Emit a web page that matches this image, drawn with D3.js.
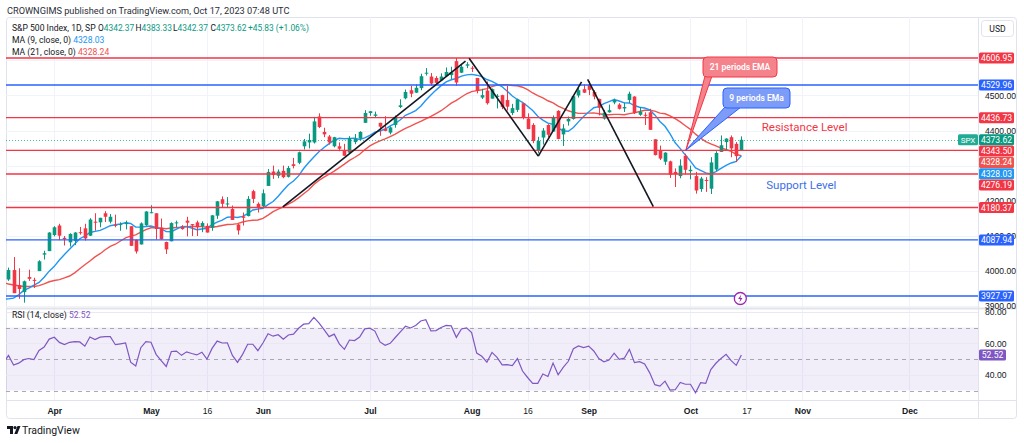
<!DOCTYPE html>
<html>
<head>
<meta charset="utf-8">
<script src="https://cdn.jsdelivr.net/npm/d3@7"></script>
<style>
  body { margin: 0; background: #fff; }
  svg { display: block; font-family: Roboto, "Liberation Sans", sans-serif; }
</style>
</head>
<body>
<svg id="chart" width="1024" height="443"></svg>
<script>
// ---- data ----
var firstSession = "2023-03-21";
var marketHolidays = ["2023-04-07", "2023-05-29", "2023-06-19", "2023-07-04", "2023-09-04", "2023-11-23"];

// daily candles, Mar 21 .. Oct 16 2023
var opens = [3975,4002,3959,3939,3982,3974,3999,4046,4056,
  4102,4129,4094,4081,4085,4110,4121,4100,4140,4138,4164,4140,4131,4132,4133,4127,4088,4075,4130,
  4166,4164,4123,4082,4084,4136,4125,4143,4133,4138,4127,4128,4123,4157,4204,4191,4176,4132,4155,4156,4227,4191,
  4184,4242,4283,4271,4285,4268,4304,4308,4355,4366,4366,4440,4396,4383,4355,4355,4344,4337,4367,4377,4422,
  4450,4442,4422,4405,4394,4416,4467,4492,4515,4508,4521,4563,4554,4550,4543,4555,4558,4598,4565,4585,
  4579,4550,4494,4514,4491,4498,4501,4487,4450,4459,4478,4434,4416,4344,4380,4416,4397,4456,4389,4426,4433,4500,4518,
  4531,4510,4490,4434,4452,4480,4474,4463,4487,4497,4445,4445,4452,4375,4342,4311,4312,4282,4270,4328,
  4284,4270,4233,4259,4234,4289,4339,4367,4381,4362,4342.37];
var highs = [4009,4039,4007,3972,4003,3980,4030,4057,4110,
  4127,4134,4099,4107,4110,4125,4134,4150,4164,4151,4170,4162,4160,4138,4143,4127,4089,4138,4170,
  4187,4164,4149,4083,4138,4143,4130,4154,4133,4143,4141,4135,4159,4199,4212,4210,4186,4133,4166,4213,4231,4195,
  4232,4290,4300,4289,4300,4299,4322,4340,4376,4391,4439,4449,4408,4387,4382,4366,4362,4384,4390,4398,4458,
  4456,4454,4422,4441,4412,4443,4489,4517,4528,4532,4562,4578,4564,4555,4563,4580,4582,4607,4590,4595,
  4584,4550,4519,4540,4520,4504,4502,4527,4476,4491,4478,4449,4421,4382,4407,4418,4443,4458,4418,4440,4501,4521,4532,
  4541,4515,4491,4458,4474,4491,4478,4479,4511,4498,4467,4452,4462,4375,4357,4338,4314,4292,4318,4334,
  4300,4282,4268,4267,4324,4341,4386,4378,4386,4367,4383.33];
var lows = [3971,3936,3920,3909,3971,3951,3999,4032,4056,
  4098,4087,4072,4069,4073,4103,4086,4099,4114,4124,4139,4135,4124,4114,4118,4071,4049,4075,4128,
  4164,4089,4088,4048,4084,4124,4117,4098,4099,4099,4110,4109,4114,4148,4180,4180,4145,4103,4129,4155,4193,4166,
  4180,4242,4262,4264,4264,4266,4292,4304,4346,4349,4363,4407,4381,4360,4352,4341,4328,4335,4361,4372,4422,
  4442,4437,4385,4398,4389,4408,4464,4489,4495,4507,4515,4557,4528,4532,4541,4553,4547,4528,4564,4578,
  4567,4506,4490,4474,4491,4463,4461,4457,4444,4453,4432,4404,4364,4335,4360,4381,4397,4375,4356,4414,4431,4494,4507,
  4501,4489,4443,4431,4451,4475,4460,4453,4478,4447,4442,4416,4402,4329,4316,4302,4265,4239,4264,4275,
  4261,4220,4225,4225,4219,4284,4339,4345,4324,4310,4342.37];
var closes = [4002,3936,3948,3970,3977,3971,4027,4050,4109,
  4124,4100,4090,4105,4109,4108,4092,4146,4137,4151,4154,4154,4129,4133,4137,4071,4055,4135,4169,
  4167,4119,4090,4061,4136,4138,4119,4137,4130,4124,4136,4109,4158,4198,4191,4192,4145,4115,4151,4205,4205,4180,
  4221,4282,4273,4283,4267,4293,4299,4338,4369,4373,4426,4410,4389,4366,4381,4348,4328,4378,4376,4396,4450,
  4455,4446,4411,4399,4409,4439,4472,4510,4505,4522,4555,4565,4534,4536,4554,4567,4566,4537,4582,4589,
  4577,4513,4501,4478,4518,4499,4467,4468,4464,4489,4437,4404,4370,4370,4400,4388,4436,4376,4406,4433,4498,4515,4508,
  4516,4497,4465,4451,4458,4487,4462,4467,4505,4450,4454,4444,4402,4330,4320,4337,4274,4275,4300,4288,
  4288,4229,4263,4258,4309,4336,4358,4377,4349,4327,4373.62];
// closes before the first visible candle (Jan 31 .. Mar 20), feed the MA / RSI
var priorCloses = [4077,4119,4180,4136,4111,4164,4118,4082,4090,4137,4136,4148,4090,4079,
  3997,3991,4012,3970,3982,3970,3951,3981,4046,4048,3986,3992,3918,3862,3856,3919,3892,3960,3917,3952];

var redLevels = [4606.95, 4436.73, 4343.50, 4276.19, 4180.37];
var blueLevels = [4529.96, 4087.94, 3927.97];
var priceGrid = [3900, 4000, 4100, 4200, 4300, 4400, 4500, 4600];
var priceTicks = [3900, 4000, 4100, 4200, 4400, 4500]; // 4300 and 4600 sit under price tags
var rsiTicks = [40, 60, 80];
var rsiBands = [70, 50, 30];
var timeTickDates = ["2023-04-03", "2023-05-01", "2023-05-16", "2023-06-01", "2023-07-03", "2023-08-01",
  "2023-08-16", "2023-09-01", "2023-10-02", "2023-10-17", "2023-11-01", "2023-12-01"];
var timeTickLabels = ["Apr", "May", "16", "Jun", "Jul", "Aug", "16", "Sep", "Oct", "17", "Nov", "Dec"];
var monthTicks = ["Apr", "May", "Jun", "Jul", "Aug", "Sep", "Oct", "Nov", "Dec"];

// drawn trend lines, [session index, price]
var trendLines = [
  [[53.9, 4182], [89.8, 4598]],
  [[90.5, 4606], [104.1, 4327]],
  [[104.1, 4327], [112.6, 4539]],
  [[113.8, 4546], [126.7, 4183]]
];

var legendKeys = ["O", "H", "L", "C"];
var legendOHLC = ["4342.37", "4383.33", "4342.37", "4373.62"];
var legendChange = "+45.83 (+1.06%)";
var ma9Last = 4328.03, ma21Last = 4328.24, lastClose = 4373.62, rsiLast = 52.52;

// ---- layout ----
var svg = d3.select("#chart");
var left = 6, right = 978, paneTop = 17, paneBottom = 308, rsiBottom = 400, frameBottom = 419, frameRight = 1017;

var green = "#089981", red = "#f23645", blue = "#2962ff", ma9Color = "#2196f3", ma21Color = "#ef5350",
    rsiColor = "#7e57c2", grid = "#f0f3fa", border = "#e0e3eb", ink = "#131722";

// trading sessions from the first candle forward
function sessions(start, n) {
  var out = [], d = new Date(start + "T00:00:00Z");
  while (out.length < n) {
    var iso = d.toISOString().slice(0, 10), wd = d.getUTCDay();
    if (wd !== 0 && wd !== 6 && marketHolidays.indexOf(iso) < 0) out.push(iso);
    d.setUTCDate(d.getUTCDate() + 1);
  }
  return out;
}
var days = sessions(firstSession, 200);

var x = d3.scaleLinear().domain([-0.49, 190.5]).range([left, right]);
var y = d3.scaleLinear().domain([3893.7, 4723.9]).range([paneBottom, paneTop]);
var yr = d3.scaleLinear().domain([24, 82.4]).range([rsiBottom, paneBottom]);

var defs = svg.append("defs");
defs.append("clipPath").attr("id", "pane").append("rect")
  .attr("x", left).attr("y", paneTop).attr("width", right - left).attr("height", paneBottom - paneTop);
defs.append("clipPath").attr("id", "rsipane").append("rect")
  .attr("x", left).attr("y", paneBottom).attr("width", right - left).attr("height", rsiBottom - paneBottom);

// header
svg.append("text").attr("x", 7).attr("y", 13.5).attr("font-size", 9.2).attr("fill", "#2a2e39")
  .text("CROWNGIMS published on TradingView.com, Oct 17, 2023 07:48 UTC");

// frame
svg.append("rect").attr("x", left + 0.5).attr("y", paneTop + 0.5).attr("width", frameRight - left - 1)
  .attr("height", frameBottom - paneTop - 1).attr("rx", 3).attr("fill", "none").attr("stroke", border);

// grid
var tickIdx = timeTickDates.map(function (d) { return days.indexOf(d); });
svg.append("g").selectAll("line").data(tickIdx).join("line")
  .attr("x1", function (d) { return Math.round(x(d)) + 0.5; })
  .attr("x2", function (d) { return Math.round(x(d)) + 0.5; })
  .attr("y1", paneTop).attr("y2", rsiBottom).attr("stroke", grid);
svg.append("g").selectAll("line").data(priceGrid).join("line")
  .attr("x1", left).attr("x2", right)
  .attr("y1", function (d) { return Math.round(y(d)) + 0.5; })
  .attr("y2", function (d) { return Math.round(y(d)) + 0.5; })
  .attr("stroke", grid);

// indicators
var allCloses = priorCloses.concat(closes);
var off = priorCloses.length;
function sma(n, g) { return g < n - 1 ? null : d3.mean(allCloses.slice(g - n + 1, g + 1)); }
var rsiAll = [], avgG = 0, avgL = 0;
for (var g = 1; g < allCloses.length; g++) {
  var ch = allCloses[g] - allCloses[g - 1];
  var up = Math.max(ch, 0), dn = Math.max(-ch, 0);
  if (g <= 14) { avgG += up / 14; avgL += dn / 14; }
  else { avgG = (avgG * 13 + up) / 14; avgL = (avgL * 13 + dn) / 14; }
  if (g >= 14) rsiAll[g] = avgL === 0 ? 100 : 100 - 100 / (1 + avgG / avgL);
}
var idxs = d3.range(-1, closes.length);

var pane = svg.append("g").attr("clip-path", "url(#pane)");
var lineGen = d3.line().x(function (d) { return x(d[0]); }).y(function (d) { return y(d[1]); });

pane.append("path").datum(idxs.map(function (i) { return [i, sma(21, i + off)]; }))
  .attr("d", lineGen).attr("fill", "none").attr("stroke", ma21Color).attr("stroke-width", 1.4);
pane.append("path").datum(idxs.map(function (i) { return [i, sma(9, i + off)]; }))
  .attr("d", lineGen).attr("fill", "none").attr("stroke", ma9Color).attr("stroke-width", 1.4);

// candles
var candles = pane.append("g").selectAll("g").data(d3.range(closes.length)).join("g");
candles.append("line")
  .attr("x1", function (i) { return Math.round(x(i)) + 0.5; })
  .attr("x2", function (i) { return Math.round(x(i)) + 0.5; })
  .attr("y1", function (i) { return y(highs[i]); })
  .attr("y2", function (i) { return y(lows[i]); })
  .attr("stroke", function (i) { return closes[i] >= opens[i] ? green : red; });
candles.append("rect")
  .attr("x", function (i) { return Math.round(x(i)) + 0.5 - 1.8; })
  .attr("width", 3.6)
  .attr("y", function (i) { return y(Math.max(opens[i], closes[i])); })
  .attr("height", function (i) { return Math.max(1, Math.abs(y(opens[i]) - y(closes[i]))); })
  .attr("fill", function (i) { return closes[i] >= opens[i] ? green : red; });

// last price dotted line
pane.append("line").attr("x1", left).attr("x2", right)
  .attr("y1", Math.round(y(lastClose)) + 0.5).attr("y2", Math.round(y(lastClose)) + 0.5)
  .attr("stroke", green).attr("stroke-dasharray", "1,2").attr("opacity", 0.7);

// horizontal levels
pane.append("g").selectAll("line").data(redLevels).join("line")
  .attr("x1", left).attr("x2", right).attr("y1", function (d) { return y(d); }).attr("y2", function (d) { return y(d); })
  .attr("stroke", red).attr("stroke-width", 1.4);
pane.append("g").selectAll("line").data(blueLevels).join("line")
  .attr("x1", left).attr("x2", right).attr("y1", function (d) { return y(d); }).attr("y2", function (d) { return y(d); })
  .attr("stroke", blue).attr("stroke-width", 1.4);

// trend lines
pane.append("g").selectAll("path").data(trendLines).join("path")
  .attr("d", lineGen).attr("fill", "none").attr("stroke", "#131722").attr("stroke-width", 1.6);

// callouts
var tip = [x(133.1), y(4344)];
function callout(box, tailW, fill, stroke, label) {
  var gC = pane.append("g");
  gC.append("path")
    .attr("d", "M" + (box[0] + 2) + "," + (box[3] - 1) + "L" + tip[0] + "," + tip[1] + "L" + (box[0] + 2 + tailW) + "," + (box[3] - 1))
    .attr("fill", fill).attr("stroke", stroke).attr("stroke-width", 1);
  gC.append("rect").attr("x", box[0]).attr("y", box[1]).attr("width", box[2] - box[0]).attr("height", box[3] - box[1])
    .attr("rx", 4).attr("fill", fill).attr("stroke", stroke).attr("stroke-width", 1);
  gC.append("rect").attr("x", box[0] + 1).attr("y", box[3] - 3).attr("width", tailW + 2).attr("height", 2).attr("fill", fill);
  gC.append("text").attr("x", (box[0] + box[2]) / 2).attr("y", (box[1] + box[3]) / 2 + 3).attr("text-anchor", "middle")
    .attr("font-size", 8.5).attr("font-weight", 600).attr("fill", "#fff").text(label);
}
callout([703, 57, 777, 77], 7, "#f5838c", "#f23645", "21 periods EMA");
callout([723, 88, 790, 108], 16, "#7d9cf7", "#2962ff", "9 periods EMa");

pane.append("text").attr("x", x(148)).attr("y", y(4410) + 4).attr("font-size", 11.5).attr("fill", red)
  .text("Resistance Level");
pane.append("text").attr("x", x(148.9)).attr("y", y(4245) + 4).attr("font-size", 11.5).attr("fill", "#3d6fe6")
  .text("Support Level");

// event marker
var ev = svg.append("g").attr("transform", "translate(" + x(143.8) + "," + (paneBottom - 9.5) + ")");
ev.append("circle").attr("r", 6).attr("fill", "#fff").attr("stroke", "#9c27b0").attr("stroke-width", 1.3);
ev.append("path").attr("d", "M1,-4L-2.2,0.6L0,0.6L-1,4L2.2,-0.6L0,-0.6Z").attr("fill", "#9c27b0");

// RSI pane
var rsiG = svg.append("g").attr("clip-path", "url(#rsipane)");
rsiG.append("rect").attr("x", left).attr("width", right - left)
  .attr("y", yr(70)).attr("height", yr(30) - yr(70)).attr("fill", "rgba(126,87,194,0.1)");
rsiG.selectAll("line.g").data(rsiTicks).join("line").attr("class", "g")
  .attr("x1", left).attr("x2", right).attr("y1", function (d) { return Math.round(yr(d)) + 0.5; })
  .attr("y2", function (d) { return Math.round(yr(d)) + 0.5; }).attr("stroke", "#ebe8f2");
rsiG.selectAll("line.b").data(rsiBands).join("line").attr("class", "b")
  .attr("x1", left).attr("x2", right).attr("y1", function (d) { return Math.round(yr(d)) + 0.5; })
  .attr("y2", function (d) { return Math.round(yr(d)) + 0.5; })
  .attr("stroke", "#9598a1").attr("stroke-dasharray", "4,4").attr("opacity", 0.8);
rsiG.append("path").datum(idxs.map(function (i) { return [i, rsiAll[i + off]]; }))
  .attr("d", d3.line().x(function (d) { return x(d[0]); }).y(function (d) { return yr(d[1]); }))
  .attr("fill", "none").attr("stroke", rsiColor).attr("stroke-width", 1.2);

// pane separators and axis borders
svg.append("line").attr("x1", left).attr("x2", frameRight).attr("y1", paneBottom + 0.5).attr("y2", paneBottom + 0.5)
  .attr("stroke", border).attr("stroke-width", 2);
svg.append("line").attr("x1", left).attr("x2", frameRight).attr("y1", rsiBottom + 0.5).attr("y2", rsiBottom + 0.5)
  .attr("stroke", border);
svg.append("line").attr("x1", right + 0.5).attr("x2", right + 0.5).attr("y1", paneTop).attr("y2", frameBottom)
  .attr("stroke", border);

// legend
var lg = svg.append("g").attr("font-size", 8.6).attr("fill", ink);
lg.append("text").attr("x", 12).attr("y", 31).text("S&P 500 Index, 1D, SP");
legendKeys.forEach(function (k, j) {
  var t = lg.append("text").attr("x", 98 + j * 37.5).attr("y", 31).attr("font-size", 8.4);
  t.append("tspan").text(k);
  t.append("tspan").attr("fill", green).text(legendOHLC[j]);
});
lg.append("text").attr("x", 248).attr("y", 31).attr("font-size", 8.4).attr("fill", green).text(legendChange);
var l2 = lg.append("text").attr("x", 12).attr("y", 43);
l2.append("tspan").text("MA (9, close, 0)  ");
l2.append("tspan").attr("fill", ma9Color).text(d3.format(".2f")(ma9Last));
var l3 = lg.append("text").attr("x", 12).attr("y", 55);
l3.append("tspan").text("MA (21, close, 0)  ");
l3.append("tspan").attr("fill", ma21Color).text(d3.format(".2f")(ma21Last));
lg.append("text").attr("x", 12).attr("y", 318).text("RSI (14, close)  ")
  .append("tspan").attr("fill", rsiColor).text(d3.format(".2f")(rsiLast));

// price axis
var pAxis = svg.append("g").attr("transform", "translate(" + (right + 4) + ",0)")
  .call(d3.axisRight(y).tickValues(priceTicks).tickSize(0).tickFormat(d3.format(".2f")));
pAxis.select(".domain").remove();
pAxis.selectAll("text").attr("font-size", 8.6).attr("fill", ink).attr("font-family", null);
var rAxis = svg.append("g").attr("transform", "translate(" + (right + 4) + ",0)")
  .call(d3.axisRight(yr).tickValues(rsiTicks).tickSize(0).tickFormat(d3.format(".2f")));
rAxis.select(".domain").remove();
rAxis.selectAll("text").attr("font-size", 8.6).attr("fill", ink).attr("font-family", null);

// time axis
var tAxis = svg.append("g").attr("transform", "translate(0," + (rsiBottom + 5) + ")")
  .call(d3.axisBottom(x).tickValues(tickIdx).tickSize(0).tickFormat(function (d, j) { return timeTickLabels[j]; }));
tAxis.select(".domain").remove();
tAxis.selectAll("text").attr("font-size", 8.6).attr("fill", ink).attr("font-family", null)
  .attr("font-weight", function (d, j) { return monthTicks.indexOf(timeTickLabels[j]) >= 0 ? 600 : 400; });

// colored price labels, stacked so they do not overlap
var tags = redLevels.map(function (p) { return { p: p, c: red }; })
  .concat(blueLevels.map(function (p) { return { p: p, c: blue }; }))
  .concat([{ p: lastClose, c: green }, { p: ma21Last, c: ma21Color }, { p: ma9Last, c: ma9Color }]);
tags.forEach(function (t) { t.y = y(t.p); });
tags.sort(function (a, b) { return a.y - b.y || b.p - a.p; });
for (var k = 1; k < tags.length; k++) if (tags[k].y < tags[k - 1].y + 11.3) tags[k].y = tags[k - 1].y + 11.3;
var tg = svg.append("g").selectAll("g").data(tags).join("g");
tg.append("rect").attr("x", right + 1).attr("width", 35).attr("height", 11)
  .attr("y", function (d) { return d.y - 5.5; }).attr("rx", 1.5).attr("fill", function (d) { return d.c; });
tg.append("text").attr("x", right + 18.5).attr("y", function (d) { return d.y + 3; }).attr("text-anchor", "middle")
  .attr("font-size", 8.6).attr("fill", "#fff").text(function (d) { return d3.format(".2f")(d.p); });

// SPX tag
svg.append("rect").attr("x", right - 20).attr("y", y(lastClose) - 5.5).attr("width", 20).attr("height", 11)
  .attr("rx", 1.5).attr("fill", "#22ab94");
svg.append("text").attr("x", right - 10).attr("y", y(lastClose) + 3).attr("text-anchor", "middle")
  .attr("font-size", 8).attr("fill", "#fff").text("SPX");

// RSI tag
svg.append("rect").attr("x", right + 1).attr("y", yr(rsiLast) - 5.5).attr("width", 27).attr("height", 11)
  .attr("rx", 1.5).attr("fill", rsiColor);
svg.append("text").attr("x", right + 14.5).attr("y", yr(rsiLast) + 3).attr("text-anchor", "middle")
  .attr("font-size", 8.6).attr("fill", "#fff").text(d3.format(".2f")(rsiLast));

// USD box
svg.append("rect").attr("x", 981.5).attr("y", 20.5).attr("width", 32).attr("height", 16).attr("rx", 3)
  .attr("fill", "#fff").attr("stroke", border);
svg.append("text").attr("x", 997.5).attr("y", 31.5).attr("text-anchor", "middle").attr("font-size", 8.6)
  .attr("fill", ink).text("USD");

// TradingView mark
var logo = svg.append("g").attr("fill", ink);
logo.append("path").attr("d", "M7,426H13V434H10V429H7Z");
logo.append("circle").attr("cx", 15).attr("cy", 427.6).attr("r", 1.6);
logo.append("path").attr("d", "M17.5,426H20.5L17.3,434H14.3Z");
svg.append("text").attr("x", 22).attr("y", 434).attr("font-size", 10.5).attr("fill", ink).text("TradingView");
</script>
</body>
</html>
